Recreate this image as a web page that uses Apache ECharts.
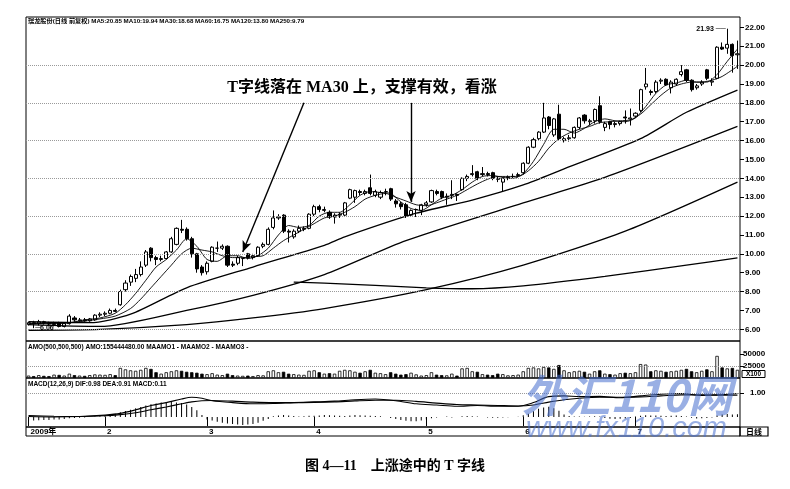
<!DOCTYPE html>
<html>
<head>
<meta charset="utf-8">
<script src="https://cdn.jsdelivr.net/npm/echarts@6.0.0/dist/echarts.min.js"></script>
<style>
html, body { margin: 0; padding: 0; background: #fff; }
#main { width: 790px; height: 489px; }
</style>
</head>
<body>
<div id="main"></div>
<script>
// 日K数据 [开, 收, 低, 高]
var kData = [
    [6.25, 6.35, 6.2, 6.4], [6.35, 6.3, 6.06, 6.45], [6.3, 6.4, 6.2, 6.5], [6.4, 6.35, 6.25, 6.45], [6.3, 6.28, 6.2, 6.4],
    [6.25, 6.3, 6.15, 6.4], [6.35, 6.15, 6.1, 6.4], [6.15, 6.3, 6.1, 6.35], [6.3, 6.7, 6.25, 6.8], [6.6, 6.5, 6.4, 6.7],
    [6.45, 6.5, 6.4, 6.6], [6.5, 6.45, 6.4, 6.6], [6.45, 6.55, 6.4, 6.6], [6.5, 6.75, 6.45, 6.8], [6.75, 6.8, 6.65, 6.9],
    [6.8, 6.85, 6.7, 6.95], [6.85, 7.0, 6.8, 7.1], [7.0, 6.95, 6.9, 7.1], [7.3, 8.0, 7.25, 8.1], [8.1, 8.45, 8.0, 8.6],
    [8.5, 8.8, 8.3, 8.9], [8.7, 8.9, 8.5, 9.2], [8.9, 9.3, 8.8, 9.6], [9.4, 10.1, 9.3, 10.2], [10.3, 9.8, 9.6, 10.35],
    [9.8, 9.7, 9.4, 9.9], [9.7, 9.75, 9.6, 9.9], [9.75, 10.1, 9.7, 10.15], [10.1, 10.8, 10.05, 10.9], [10.5, 11.35, 10.45, 11.4],
    [11.3, 11.25, 11.1, 11.8], [11.3, 10.8, 10.7, 11.4], [10.8, 10.0, 9.8, 10.9], [10.0, 9.2, 9.0, 10.05], [9.3, 9.0, 8.85, 9.4],
    [9.05, 9.5, 8.9, 9.6], [9.6, 10.35, 9.55, 10.4], [10.3, 10.3, 10.1, 10.65], [10.3, 10.4, 10.2, 10.5], [10.4, 9.4, 9.3, 10.45],
    [9.45, 9.4, 9.3, 9.6], [9.5, 9.8, 9.4, 9.9], [9.75, 9.75, 9.35, 9.78], [10.0, 9.8, 9.7, 10.05], [9.8, 9.9, 9.7, 10.0],
    [9.9, 10.35, 9.85, 10.4], [10.4, 10.5, 10.3, 10.6], [10.5, 11.3, 10.45, 11.4], [11.4, 11.9, 11.3, 12.3], [11.9, 11.95, 11.8, 12.1],
    [12.05, 11.2, 11.1, 12.1], [11.2, 11.15, 10.6, 11.3], [10.9, 11.2, 10.8, 11.3], [11.2, 11.35, 11.1, 11.5], [11.3, 11.35, 11.2, 11.45],
    [11.35, 12.1, 11.3, 12.15], [12.1, 12.5, 12.0, 12.6], [12.5, 12.35, 12.2, 12.6], [12.3, 12.35, 12.2, 12.5], [12.2, 11.95, 11.85, 12.3],
    [11.95, 12.05, 11.6, 12.15], [12.05, 12.1, 11.9, 12.2], [12.05, 12.7, 12.0, 12.75], [12.95, 13.4, 12.9, 13.45], [13.0, 13.35, 12.7, 13.4],
    [13.3, 13.25, 13.1, 13.4], [13.2, 13.3, 13.1, 13.4], [13.5, 13.2, 13.1, 14.2], [13.1, 13.3, 13.0, 13.4], [13.0, 13.25, 12.9, 13.35],
    [13.3, 13.3, 13.1, 13.45], [13.45, 12.9, 12.8, 13.5], [12.8, 12.65, 12.45, 12.9], [12.65, 12.5, 12.35, 12.75], [12.6, 12.0, 11.9, 12.7],
    [12.05, 12.3, 11.95, 12.35], [12.35, 12.35, 11.95, 12.4], [12.3, 12.6, 12.05, 12.65], [12.6, 12.7, 12.5, 12.8], [12.75, 13.35, 12.7, 13.4],
    [13.3, 13.2, 13.1, 13.4], [13.3, 13.0, 12.9, 13.35], [13.0, 13.05, 12.6, 13.2], [13.1, 13.15, 12.9, 13.9], [13.15, 13.1, 12.8, 13.2],
    [13.4, 14.0, 13.35, 14.05], [14.0, 14.1, 13.85, 14.2], [14.2, 14.25, 14.1, 14.7], [14.35, 14.0, 13.9, 14.4], [14.2, 14.25, 14.1, 14.6],
    [14.25, 14.2, 14.1, 14.35], [14.3, 14.0, 13.9, 14.35], [14.0, 13.95, 13.8, 14.1], [13.8, 14.0, 13.3, 14.05], [14.0, 14.05, 13.9, 14.15],
    [14.1, 14.1, 14.0, 14.25], [14.15, 14.2, 14.05, 14.3], [14.3, 14.8, 14.2, 14.85], [14.8, 15.65, 14.75, 15.7], [15.65, 16.05, 15.6, 16.15],
    [16.1, 16.45, 16.0, 16.5], [16.45, 17.2, 16.4, 18.0], [17.25, 16.8, 16.6, 17.3], [16.3, 17.15, 16.2, 17.2], [17.4, 16.1, 16.0, 17.9],
    [16.0, 16.1, 15.9, 16.2], [16.1, 16.15, 15.95, 16.3], [16.15, 16.7, 16.1, 16.75], [16.7, 17.2, 16.6, 17.25], [17.35, 17.05, 16.9, 17.4],
    [17.0, 17.05, 16.8, 17.15], [17.05, 17.65, 16.9, 17.7], [17.85, 17.0, 16.9, 18.35], [16.7, 16.9, 16.5, 17.0], [17.0, 16.85, 16.6, 17.05],
    [16.85, 16.9, 16.7, 17.0], [16.9, 17.0, 16.8, 17.05], [17.25, 17.2, 16.9, 17.6], [17.15, 17.2, 16.8, 17.7], [17.3, 17.45, 17.2, 17.5],
    [17.6, 18.7, 17.5, 18.75], [18.85, 19.0, 18.7, 19.85], [18.6, 18.55, 18.4, 18.7], [18.6, 19.1, 18.5, 19.2], [19.15, 19.2, 19.0, 19.3],
    [19.25, 18.95, 18.9, 19.3], [18.8, 19.1, 18.5, 19.2], [19.0, 19.25, 18.9, 19.3], [19.5, 19.65, 19.4, 20.0], [19.75, 19.2, 19.1, 19.8],
    [19.2, 18.7, 18.6, 19.25], [18.8, 18.9, 18.7, 19.0], [19.0, 19.1, 18.9, 19.2], [19.75, 19.3, 19.2, 19.8], [19.1, 19.15, 18.9, 19.3],
    [19.3, 20.95, 19.25, 21.0], [20.95, 20.85, 20.8, 21.2], [20.9, 21.1, 20.6, 21.93], [21.1, 20.5, 19.6, 21.15], [20.55, 20.6, 19.8, 21.3]
]

// 均线读数 [序号, 价格]
var ma5 = [[0, 6.3], [4, 6.32], [8, 6.35], [11, 6.5], [14, 6.6], [17, 6.85], [19, 7.3], [21, 7.9], [23, 8.6], [25, 9.3], [27, 9.7], [29, 10.2], [31, 10.8], [33, 10.4], [35, 9.7], [37, 9.6], [39, 9.9], [41, 9.9], [43, 9.75], [45, 9.9], [47, 10.3], [49, 11.0], [51, 11.5], [53, 11.4], [55, 11.5], [57, 12.0], [59, 12.2], [61, 12.2], [63, 12.6], [65, 13.1], [67, 13.3], [69, 13.25], [71, 13.2], [73, 12.75], [75, 12.4], [77, 12.3], [79, 12.6], [81, 12.95], [83, 13.1], [85, 13.4], [87, 13.8], [89, 14.1], [91, 14.15], [93, 14.05], [95, 14.0], [97, 14.25], [99, 14.9], [101, 15.8], [103, 16.6], [105, 16.6], [107, 16.4], [109, 16.65], [111, 17.0], [113, 17.15], [115, 17.05], [117, 17.0], [119, 17.2], [121, 17.8], [123, 18.5], [125, 18.95], [127, 19.05], [129, 19.2], [131, 19.1], [133, 19.1], [135, 19.5], [137, 20.2], [139, 20.85]]
var ma10 = [[0, 6.3], [5, 6.3], [10, 6.4], [14, 6.55], [17, 6.7], [20, 7.1], [22, 7.6], [24, 8.2], [26, 8.8], [28, 9.4], [30, 10.0], [32, 10.3], [34, 10.2], [36, 10.1], [38, 9.9], [40, 9.8], [42, 9.8], [44, 9.85], [46, 9.9], [48, 10.3], [50, 10.7], [52, 11.0], [54, 11.3], [56, 11.6], [58, 11.9], [60, 12.0], [62, 12.2], [64, 12.5], [66, 12.9], [68, 13.1], [70, 13.2], [72, 13.0], [74, 12.8], [76, 12.6], [78, 12.55], [80, 12.7], [82, 12.9], [84, 13.1], [86, 13.4], [88, 13.7], [90, 13.95], [92, 14.1], [94, 14.1], [96, 14.1], [98, 14.4], [100, 14.9], [102, 15.6], [104, 16.1], [106, 16.4], [108, 16.6], [110, 16.75], [112, 16.95], [114, 17.0], [116, 17.05], [118, 17.1], [120, 17.4], [122, 17.9], [124, 18.4], [126, 18.8], [128, 19.0], [130, 19.1], [132, 19.1], [134, 19.2], [136, 19.4], [139, 19.94]]
var ma30 = [[0, 6.4], [12, 6.35], [20, 6.8], [31, 8.2], [44, 9.3], [58, 10.45], [62, 10.9], [76, 12.15], [87, 12.85], [97, 13.65], [105, 14.5], [120, 16.1], [129, 17.5], [139, 18.68]]
var ma60 = [[0, 6.25], [14, 6.15], [31, 7.0], [44, 7.8], [58, 8.9], [74, 10.7], [97, 12.7], [113, 14.05], [139, 16.75]]
var ma120 = [[0, 5.95], [14, 6.0], [31, 6.25], [44, 6.6], [58, 7.1], [78, 8.1], [97, 9.4], [117, 11.2], [139, 13.8]]
var ma250 = [[52, 8.5], [58, 8.45], [78, 8.2], [87, 8.15], [97, 8.3], [113, 8.8], [129, 9.4], [139, 9.79]]
var maNames = ['MA5', 'MA10', 'MA30', 'MA60', 'MA120', 'MA250']

// 成交额
var amo = [
    5000, 4000, 6000, 4500, 4000, 7000, 6500, 5000, 9000, 6000, 5000, 4500, 6000, 7500, 7000,
    6500, 8000, 6000, 21000, 18000, 16000, 15000, 17000,
    21000, 19000, 12000, 9000, 12000, 14000, 16000, 15000, 13000, 12000, 11000,
    9000, 8000, 10000, 7000, 6000, 9000, 6000, 5000, 4500, 5000, 4000, 6000, 5500, 14000, 16000, 12000, 13000, 9000, 8000, 7000, 6500, 15000,
    16000, 12000, 9000, 10000, 9000, 15000, 17000, 16000, 13000, 11000, 14000, 17000, 11000, 10000, 8000, 12000, 9000, 7000, 8000, 11000, 7500,
    5000, 6000, 12000, 7000, 6000, 5500, 9000, 5000, 20000, 21000, 14000, 13000, 8000, 7000, 6000, 9000, 8000, 5500, 6000, 7000,
    14000, 21000, 22000, 20000, 23000, 22000, 19000, 27000, 16000, 12000, 14000, 15000, 13000, 9000, 14000, 16000, 9000, 8000, 7000, 10000, 11000, 10000, 12000,
    29000, 28000, 14000, 16000, 15000, 13000, 14000, 15000, 17000, 19000, 14000, 12000, 15000, 18000, 14000, 46000, 22000, 20000, 21000, 17000
]

// MACD 柱
var macdBar = [
    -0.15, -0.15, -0.14, -0.12, -0.12, -0.1, -0.1, -0.08, -0.05, -0.04, -0.03, -0.02, 0.0, 0.02, 0.03,
    0.07, 0.1, 0.14, 0.2, 0.25, 0.3, 0.36, 0.42,
    0.48, 0.53, 0.56, 0.6, 0.62, 0.63, 0.6, 0.58,
    0.52, 0.42, 0.28, 0.08,
    -0.1, -0.15, -0.2, -0.24, -0.27, -0.29, -0.31, -0.33, -0.31, -0.29, -0.24, -0.16, -0.08,
    0.03, 0.06, 0.08, 0.06, 0.04, 0.02, 0.03, 0.05,
    0.05, 0.06, 0.08, 0.07, 0.06, 0.05, 0.04, 0.06, 0.08, 0.07, 0.06, 0.05, 0.04, 0.03, 0.0, -0.04, -0.08,
    -0.12, -0.16, -0.18, -0.18, -0.15, -0.1,
    -0.05, -0.02, 0.0, 0.02, -0.02, 0.0, 0.03, 0.04, 0.03, 0.02, 0.0, -0.02, -0.03, -0.03, -0.02, -0.01, 0.0, 0.01,
    0.07, 0.14, 0.24, 0.34, 0.4, 0.43, 0.36, 0.26,
    0.1, 0.04, 0.02, 0.02, 0.01, 0.02, 0.03, 0.02,
    -0.04, -0.07, -0.08, -0.07, -0.06, -0.04,
    0.02, 0.05, 0.07, 0.06, 0.06, 0.05, 0.04, 0.05, 0.06, 0.04, 0.02, -0.03, -0.06, -0.05,
    -0.04, -0.02, 0.06, 0.1, 0.12, 0.1, 0.11
]
var dif = [[0, 0.02], [5, 0.0], [10, 0.02], [15, 0.08], [18, 0.15], [21, 0.3], [24, 0.48], [27, 0.6], [30, 0.75], [32, 0.82], [34, 0.78], [36, 0.68], [40, 0.6], [44, 0.55], [48, 0.56], [52, 0.6], [56, 0.63], [60, 0.66], [64, 0.72], [68, 0.75], [72, 0.68], [76, 0.55], [80, 0.5], [84, 0.45], [88, 0.48], [92, 0.45], [96, 0.45], [99, 0.6], [102, 0.85], [105, 0.88], [108, 0.85], [112, 0.86], [116, 0.8], [120, 0.88], [124, 0.95], [128, 0.98], [132, 0.9], [135, 0.92], [139, 0.98]]
var dea = [[0, 0.06], [5, 0.03], [10, 0.02], [15, 0.05], [18, 0.1], [21, 0.18], [24, 0.3], [27, 0.42], [30, 0.55], [32, 0.63], [34, 0.68], [36, 0.69], [40, 0.66], [44, 0.62], [48, 0.6], [52, 0.6], [56, 0.61], [60, 0.63], [64, 0.67], [68, 0.7], [72, 0.7], [76, 0.65], [80, 0.58], [84, 0.52], [88, 0.5], [92, 0.48], [96, 0.46], [99, 0.5], [102, 0.62], [105, 0.72], [108, 0.78], [112, 0.82], [116, 0.82], [120, 0.84], [124, 0.88], [128, 0.92], [132, 0.92], [135, 0.91], [139, 0.91]]

// 坐标刻度
var monthStart = [0, 15, 35, 56, 78, 97, 119]
var monthName = ['2009年', '2', '3', '4', '5', '6', '7']
var priceTicks = [6, 7, 8, 9, 10, 11, 12, 13, 14, 15, 16, 17, 18, 19, 20, 21, 22]
var priceGrid = [6, 8, 10, 12, 14, 16, 18, 20]
var amoTicks = [25000, 50000]
var macdTicks = [1]

var days = kData.map(function (d, i) { return String(i) })
var last = function (arr) { return arr[arr.length - 1][1] }

var maLines = [ma5, ma10, ma30, ma60, ma120, ma250]
var header = '瑞龙股份(日线 前复权) ' + maNames.map(function (n, k) {
    return n + ':' + last(maLines[k]).toFixed(2)
}).join(' ')
var amoHeader = 'AMO(500,500,500) AMO:155444480.00 MAAMO1 - MAAMO2 - MAAMO3 -'
var macdHeader = 'MACD(12,26,9) DIF:' + last(dif).toFixed(2) + ' DEA:' + last(dea).toFixed(2) +
    ' MACD:' + macdBar[macdBar.length - 1].toFixed(2)

var latin = '"Liberation Sans", Arial, "Noto Sans CJK SC", sans-serif'
var serif = '"Liberation Serif", "Noto Sans CJK SC", serif'
var axisText = { color: '#000', fontSize: 8, fontWeight: 'bold', fontFamily: latin }
var dotted = { type: 'dotted', color: '#9a9a9a', width: 1 }

var chart = echarts.init(document.getElementById('main'))

var maSeries = maLines.map(function (d, k) {
    return {
        name: maNames[k],
        type: 'line',
        xAxisIndex: 0,
        yAxisIndex: 0,
        data: d,
        smooth: 0.25,
        symbol: 'none',
        silent: true,
        lineStyle: { color: '#000', width: k < 2 ? 0.9 : 1.3 },
        z: 3
    }
})
// 两个箭头挂在 MA5 上
maSeries[0].markLine = {
    silent: true,
    symbol: ['none', 'arrow'],
    symbolSize: [7, 11],
    label: { show: false },
    lineStyle: { color: '#000', width: 1.4, type: 'solid' },
    data: [
        [{ coord: [54, 18.0] }, { coord: [42, 10.1] }],
        [{ coord: [75, 18.0] }, { coord: [75, 12.75] }]
    ]
}

var option = {
    animation: false,
    backgroundColor: '#fff',
    grid: [
        { left: 26, right: 50, top: 17, height: 324, show: true, borderColor: '#000', borderWidth: 1 },
        { left: 26, right: 50, top: 341, height: 37, show: true, borderColor: '#000', borderWidth: 1 },
        { left: 26, right: 50, top: 378, height: 49, show: true, borderColor: '#000', borderWidth: 1 }
    ],
    xAxis: [0, 1, 2].map(function (g) {
        return {
            type: 'category',
            gridIndex: g,
            data: days,
            boundaryGap: true,
            show: g === 2,
            axisLine: { show: false },
            axisTick: {
                show: g === 2,
                alignWithLabel: true,
                length: 9,
                interval: function (i) { return monthStart.indexOf(i) >= 0 },
                lineStyle: { color: '#000' }
            },
            axisLabel: {
                show: g === 2,
                interval: function (i) { return monthStart.indexOf(i) >= 0 },
                formatter: function (v, i) { return monthName[monthStart.indexOf(i)] },
                align: 'left',
                margin: 1,
                padding: [0, 0, 0, 2],
                color: '#000',
                fontSize: 8,
                fontWeight: 'bold',
                fontFamily: latin
            },
            splitLine: { show: false }
        }
    }),
    yAxis: [
        {
            type: 'value', gridIndex: 0, position: 'right', min: 5.38, max: 22.55,
            axisLine: { show: false }, splitLine: { show: false },
            axisTick: { show: true, customValues: priceTicks, length: 4, lineStyle: { color: '#000' } },
            axisLabel: Object.assign({ customValues: priceTicks, margin: 5, formatter: function (v) { return v.toFixed(2) } }, axisText)
        },
        {
            type: 'value', gridIndex: 1, position: 'right', min: 0, max: 77000,
            axisLine: { show: false }, splitLine: { show: false },
            axisTick: { show: true, customValues: amoTicks, length: 4, lineStyle: { color: '#000' } },
            axisLabel: Object.assign({ customValues: amoTicks, margin: 3, formatter: function (v) { return String(v) } }, axisText)
        },
        {
            type: 'value', gridIndex: 2, position: 'right', min: -0.4167, max: 1.625,
            axisLine: { show: false }, splitLine: { show: false },
            axisTick: { show: true, customValues: macdTicks, length: 4, lineStyle: { color: '#000' } },
            axisLabel: Object.assign({ customValues: macdTicks, margin: 10, formatter: function (v) { return v.toFixed(2) } }, axisText)
        }
    ],
    series: [
        {
            name: 'K',
            type: 'candlestick',
            xAxisIndex: 0,
            yAxisIndex: 0,
            data: kData,
            barWidth: 3.6,
            silent: true,
            itemStyle: { color: '#fff', color0: '#000', borderColor: '#000', borderColor0: '#000', borderWidth: 1 },
            markLine: {
                silent: true,
                symbol: ['none', 'none'],
                label: { show: false },
                lineStyle: dotted,
                data: priceGrid.map(function (v) { return { yAxis: v } })
            },
            markPoint: {
                silent: true,
                symbol: 'circle',
                symbolSize: 1,
                itemStyle: { color: 'rgba(0,0,0,0)' },
                data: [
                    {
                        type: 'max', valueDim: 'highest',
                        label: { position: 'left', distance: 1, formatter: function (p) { return p.value.toFixed(2) + ' \u2500\u2500' } }
                    },
                    {
                        type: 'min', valueDim: 'lowest',
                        label: { position: 'right', distance: 1, formatter: function (p) { return '\u2500' + p.value.toFixed(2) } }
                    }
                ],
                label: { color: '#000', fontSize: 7, fontWeight: 'bold', fontFamily: latin }
            },
            z: 2
        }
    ].concat(maSeries).concat([
        {
            name: 'AMO',
            type: 'bar',
            xAxisIndex: 1,
            yAxisIndex: 1,
            data: amo,
            barWidth: 3.4,
            silent: true,
            itemStyle: {
                color: function (p) { return kData[p.dataIndex][1] >= kData[p.dataIndex][0] ? '#fff' : '#000' },
                borderColor: '#000',
                borderWidth: 0.8
            },
            markLine: {
                silent: true, symbol: ['none', 'none'], label: { show: false }, lineStyle: dotted,
                data: [{ yAxis: amoTicks[0] }]
            }
        },
        {
            name: 'MACD',
            type: 'bar',
            xAxisIndex: 2,
            yAxisIndex: 2,
            data: macdBar,
            barWidth: 1,
            silent: true,
            itemStyle: { color: '#000' },
            markLine: {
                silent: true, symbol: ['none', 'none'], label: { show: false }, lineStyle: dotted,
                data: [{ yAxis: macdTicks[0] }]
            }
        },
        {
            name: 'DIF', type: 'line', xAxisIndex: 2, yAxisIndex: 2, data: dif, smooth: 0.3,
            symbol: 'none', silent: true, lineStyle: { color: '#000', width: 1.1 }
        },
        {
            name: 'DEA', type: 'line', xAxisIndex: 2, yAxisIndex: 2, data: dea, smooth: 0.3,
            symbol: 'none', silent: true, lineStyle: { color: '#000', width: 1.1 }
        }
    ]),
    graphic: [
        { type: 'text', x: 28, y: 18.5, z: 10, style: { text: header, fill: '#000', fontSize: 6.2, fontWeight: 'bold', fontFamily: latin } },
        { type: 'text', x: 28, y: 343.5, z: 10, style: { text: amoHeader, fill: '#000', fontSize: 6.5, fontWeight: 'bold', fontFamily: latin } },
        { type: 'text', x: 28, y: 380.5, z: 10, style: { text: macdHeader, fill: '#000', fontSize: 6.5, fontWeight: 'bold', fontFamily: latin } },
        // 底部时间条
        { type: 'rect', z: 10, shape: { x: 26, y: 427, width: 714, height: 9 }, style: { fill: 'none', stroke: '#000', lineWidth: 1 } },
        { type: 'rect', z: 10, shape: { x: 740, y: 427, width: 28, height: 9 }, style: { fill: 'none', stroke: '#000', lineWidth: 1.2 } },
        { type: 'text', x: 754, y: 432, z: 10, style: { text: '日线', fill: '#000', align: 'center', verticalAlign: 'middle', fontSize: 8, fontWeight: 'bold', fontFamily: '"Noto Sans CJK SC", sans-serif' } },
        { type: 'rect', z: 10, shape: { x: 742, y: 370.5, width: 23, height: 7 }, style: { fill: '#fff', stroke: '#000', lineWidth: 1 } },
        { type: 'text', x: 753.5, y: 374.3, z: 11, style: { text: 'X100', fill: '#000', align: 'center', verticalAlign: 'middle', fontSize: 6.5, fontWeight: 'bold', fontFamily: latin } },
        // 文字说明
        { type: 'text', x: 362, y: 88, z: 10, style: { text: 'T字线落在 MA30 上，支撑有效，看涨', fill: '#000', align: 'center', verticalAlign: 'middle', fontSize: 16, fontWeight: 'bold', fontFamily: serif } },
        { type: 'text', x: 395, y: 466, z: 10, style: { text: '图 4—11　上涨途中的 T 字线', fill: '#000', align: 'center', verticalAlign: 'middle', fontSize: 14, fontWeight: 'bold', fontFamily: serif } },
        // 水印
        { type: 'text', x: 522, y: 395, z: 20, style: { text: '外汇110网', fill: 'rgba(70,110,205,0.55)', verticalAlign: 'middle', fontSize: 44, fontWeight: 'bold', fontStyle: 'italic', fontFamily: '"Noto Sans CJK SC", sans-serif' } },
        { type: 'text', x: 526, y: 429, z: 20, style: { text: 'www.fx110.com', fill: 'rgba(70,110,205,0.55)', verticalAlign: 'middle', fontSize: 29, fontStyle: 'italic', fontFamily: latin } }
    ]
}

chart.setOption(option)
</script>
</body>
</html>
